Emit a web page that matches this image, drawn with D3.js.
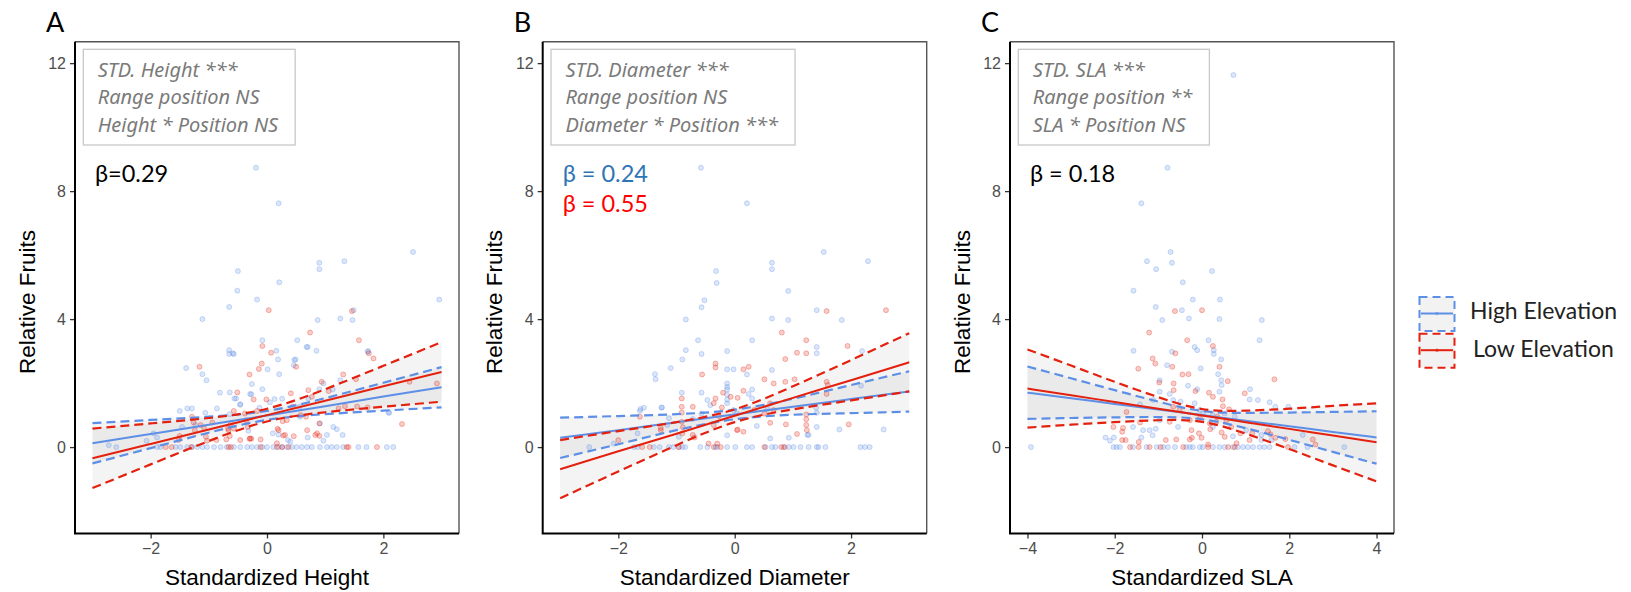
<!DOCTYPE html>
<html>
<head>
<meta charset="utf-8">
<script src="https://cdn.jsdelivr.net/npm/d3@7"></script>
<style>
body { margin: 0; background: #fff; }
</style>
</head>
<body>
<svg id="fig" width="1631" height="592"></svg>
<script>
// x positions where the fitted lines / confidence bounds were read
const ciXHD = [-3, -2, -1, 0, 1, 2, 3];
const ciXSLA = [-4, -3, -2, -1, 0, 1, 2, 3, 4];

// Panel A - height
const heightHighFit = [0.12, 0.41, 0.70, 0.99, 1.28, 1.58, 1.87];
const heightHighUp  = [0.75, 0.85, 0.95, 1.13, 1.53, 2.01, 2.50];
const heightHighLo  = [-0.51, -0.03, 0.45, 0.85, 1.03, 1.14, 1.24];
const heightLowFit  = [-0.35, 0.10, 0.55, 1.00, 1.45, 1.90, 2.35];
const heightLowUp   = [0.58, 0.74, 0.91, 1.20, 1.81, 2.54, 3.28];
const heightLowLo   = [-1.28, -0.54, 0.19, 0.80, 1.09, 1.26, 1.42];

// Panel B - diameter
const diamHighFit = [0.29, 0.53, 0.78, 1.02, 1.26, 1.50, 1.74];
const diamHighUp  = [0.92, 0.97, 1.03, 1.17, 1.51, 1.94, 2.37];
const diamHighLo  = [-0.34, 0.09, 0.53, 0.87, 1.01, 1.06, 1.11];
const diamLowFit  = [-0.69, -0.13, 0.42, 0.98, 1.54, 2.09, 2.65];
const diamLowUp   = [0.22, 0.50, 0.78, 1.18, 1.90, 2.72, 3.56];
const diamLowLo   = [-1.60, -0.76, 0.06, 0.78, 1.18, 1.46, 1.74];

// Panel C - SLA
const slaHighFit = [1.70, 1.525, 1.35, 1.175, 1.00, 0.825, 0.65, 0.475, 0.30];
const slaHighUp  = [2.52, 2.15, 1.78, 1.42, 1.13, 1.07, 1.08, 1.10, 1.12];
const slaHighLo  = [0.88, 0.91, 0.93, 0.94, 0.87, 0.59, 0.23, -0.15, -0.52];
const slaLowFit  = [1.83, 1.62, 1.41, 1.20, 0.99, 0.78, 0.57, 0.36, 0.15];
const slaLowUp   = [3.05, 2.55, 2.04, 1.56, 1.19, 1.14, 1.20, 1.29, 1.37];
const slaLowLo   = [0.61, 0.70, 0.78, 0.84, 0.79, 0.42, -0.06, -0.57, -1.07];

// scatter points [x, relative fruits]
const heightHighPts = [[-0.19,8.73],[0.20,7.62],[2.51,6.10],[-0.50,5.50],[0.90,5.76],[0.90,5.56],[1.33,5.81],[0.21,5.15],[2.96,4.61],[-0.51,4.89],[-0.65,4.38],[-0.17,4.61],[-1.11,4.0],[1.49,4.28],[1.47,3.97],[1.26,4.02],[0.87,3.97],[0.52,3.34],[-0.08,3.34],[0.70,3.13],[0.85,3.01],[0.16,3.01],[-0.65,3.03],[-0.65,2.91],[-0.57,2.91],[1.73,2.98],[0.19,2.74],[0.49,2.74],[0.46,2.56],[-1.39,2.47],[0.01,2.43],[-1.11,2.28],[0.21,2.28],[-1.04,2.09],[1.26,2.09],[-0.26,1.97],[0.97,1.99],[-0.08,1.81],[-0.81,1.70],[-0.64,1.71],[-0.29,1.66],[0.90,1.81],[1.13,1.80],[2.09,1.08],[1.14,0.63],[1.20,0.56],[1.30,0.38],[0.70,0.30],[0.97,0.20],[0.57,0.95],[0.10,0.43],[0.20,0.39],[0.36,0.22],[0.40,0.17],[-1.95,0.43],[-2.07,0.20],[-2.72,0.06],[-1.50,1.13],[-1.37,1.21],[-1.29,1.21],[-1.06,1.07],[-0.86,1.21],[-0.64,1.03],[-0.46,1.34],[-0.56,1.52],[0.13,1.50],[0.26,1.51],[0.05,1.40],[0.56,1.26],[0.71,1.52],[-1.23,0.69],[-1.89,0.30],[0.91,0.74],[1.03,0.38],[-1.46,0.63],[-0.53,1.52],[-0.46,1.32],[-0.27,1.65],[-0.13,1.23],[-0.32,0.51],[0.47,2.72],[0.68,3.13],[1.74,3.0],[2.10,1.07],[-0.59,2.93]];
const heightHighZero = [-2.59,-1.89,-1.83,-1.57,-1.49,-1.37,-1.29,-1.20,-1.11,-1.03,-0.91,-0.80,-0.69,-0.57,-0.46,-0.34,-0.26,-0.17,-0.08,0,0.11,0.20,0.26,0.34,0.43,0.51,0.60,0.69,0.77,0.91,1.03,1.11,1.20,1.31,1.57,1.71,2.06,2.17];
const heightLowPts = [[0.03,4.28],[1.46,4.25],[0.74,3.58],[1.58,3.34],[-0.08,3.16],[0.07,2.95],[1.75,2.93],[1.83,2.77],[-0.09,2.61],[0.50,2.51],[-1.16,2.51],[-0.14,2.44],[-0.30,2.27],[1.31,2.27],[1.53,2.12],[0.94,2.04],[-0.51,1.71],[0.41,1.68],[0.71,1.78],[1.06,1.75],[2.45,2.04],[2.92,1.99],[2.32,0.72],[1.73,1.24],[1.34,1.28],[1.23,1.21],[0.90,0.74],[0.69,0.53],[0.86,0.43],[0.90,0.35],[0.34,0.84],[0.27,0.81],[0.18,0.57],[0.20,0.53],[0.28,0.36],[-0.11,0.24],[-0.30,0.26],[-0.27,0.26],[-0.46,0.22],[-0.70,0.24],[-0.87,0.22],[-1.05,0.32],[-1.03,0.20],[-0.94,0.77],[-1.14,0.69],[-1.08,0.58],[-1.24,0.53],[-1.52,0.22],[-0.57,1.13],[-0.38,1.05],[-0.17,1.13],[-0.23,1.49],[-0.01,1.49],[0.77,1.57],[0.83,0.38],[0.46,0.34],[0.31,0.38],[0.17,0.12],[-0.67,0.58],[-0.57,0.58],[-0.29,0.27],[0.44,1.26],[0.58,1.0],[0.67,0.95],[-0.36,0.84],[-0.33,0.63],[-0.62,0.73],[-0.66,0.53],[-0.64,0.35],[-1.29,0.95],[-1.26,0.77],[-1.50,0.35],[1.55,1.27]];
const heightLowZero = [-1.74,-1.64,-1.30,-0.66,-0.62,-0.11,0.17,0.26,0.37,1.37,1.40,1.89];

const diamHighPts = [[-0.58,8.73],[0.21,7.62],[1.53,6.10],[2.29,5.81],[0.64,5.76],[0.64,5.56],[-0.32,5.50],[-0.31,5.13],[0.92,4.88],[-0.52,4.59],[-0.57,4.37],[1.41,4.28],[-0.84,3.99],[0.64,4.02],[0.92,3.97],[1.84,3.97],[0.30,3.34],[-0.63,3.34],[1.41,3.13],[1.41,2.93],[-0.57,2.91],[-0.13,3.0],[2.19,3.0],[-0.84,3.03],[-0.90,2.74],[0.64,2.41],[2.17,1.92],[-1.10,2.47],[-1.37,2.28],[-1.36,2.12],[-1.26,1.23],[-1.56,1.23],[-0.13,2.43],[-0.02,2.43],[-0.13,1.99],[-0.13,1.80],[0.21,2.27],[0.30,1.80],[-0.57,1.70],[-0.91,1.70],[-1.63,1.13],[1.40,1.23],[1.41,1.07],[1.41,0.63],[1.80,0.55],[2.56,0.55],[-0.13,0.37],[-1.67,0.43],[-1.62,1.19],[-1.25,1.24],[-2.08,0.11],[0.93,0.29],[1.25,0.38],[0.61,0.27],[-0.96,0.32],[-0.13,1.88],[-0.13,1.64],[-0.13,1.48],[-0.13,1.37],[0.24,1.66],[0.30,1.52],[0.56,1.19],[0.38,0.66],[1.27,0.38],[-0.02,1.16],[0.04,1.05],[-0.47,1.47],[-0.42,1.31],[-0.57,1.05],[-0.72,0.88],[-1.16,0.69],[-1.13,0.90]];
const diamHighZero = [-2.50,-1.73,-1.67,-1.39,-1.29,-1.13,-1.05,-0.96,-0.90,-0.85,-0.59,-0.47,-0.33,-0.30,-0.13,0.01,0.21,0.30,0.53,0.64,0.70,0.84,0.93,1.01,1.13,1.27,1.41,1.44,1.56,2.16,2.24,2.32];
const diamLowPts = [[1.58,4.25],[2.60,4.28],[0.81,3.58],[1.23,3.34],[1.94,3.16],[1.07,2.95],[1.23,2.93],[0.87,2.75],[0.51,2.12],[0.87,2.04],[1.58,2.04],[1.60,1.94],[-0.56,2.27],[-0.33,2.61],[-0.33,2.49],[0.15,2.43],[0.24,2.51],[0.15,1.76],[0.05,1.54],[-0.20,1.70],[-0.33,1.52],[-0.91,1.52],[-0.91,1.26],[-0.91,1.08],[0.61,1.37],[0.67,1.16],[0.88,0.71],[1.07,0.41],[1.23,1.02],[1.23,0.87],[1.23,0.69],[1.24,0.53],[1.58,1.66],[1.96,0.71],[0.61,0.76],[0.04,0.53],[0.15,0.48],[-0.36,0.69],[-0.72,0.38],[-0.69,0.30],[-0.91,0.79],[-0.89,0.62],[-0.90,0.43],[-1.27,0.53],[-2.00,0.22],[0.05,0.55],[-1.27,0.60],[-0.45,0.11],[-0.30,0.11],[-0.72,1.26],[-0.36,1.37],[-0.27,0.97],[-0.07,1.57],[-0.22,1.24],[0.34,1.16],[0.51,1.05],[0.67,1.99],[1.03,2.12],[-1.63,0.95]];
const diamLowZero = [-1.59,-1.46,-0.96,-0.36,-0.24,0.51,0.80,0.86];

const slaHighPts = [[0.72,11.63],[-0.79,8.73],[-1.39,7.62],[-0.72,6.10],[-0.69,5.76],[-1.26,5.81],[-1.05,5.56],[0.23,5.50],[-0.44,5.15],[-1.57,4.89],[-0.21,4.61],[0.41,4.61],[-1.06,4.38],[-0.46,4.28],[-0.91,3.97],[-0.30,4.02],[0.40,4.0],[1.37,3.97],[0.15,3.34],[1.32,3.34],[-0.17,3.13],[-0.11,3.03],[0.27,3.03],[0.27,2.91],[-0.69,2.98],[-1.57,3.01],[0.44,2.74],[-0.03,2.46],[-0.80,2.56],[0.37,2.28],[-0.97,2.09],[0.44,2.09],[0.45,1.94],[0.40,1.73],[-0.74,1.66],[-0.11,1.81],[1.10,1.81],[1.09,1.49],[1.28,1.47],[1.55,1.40],[1.68,1.26],[1.98,1.26],[-1.42,1.34],[-2.21,0.30],[-2.02,0.30],[-2.11,0.20],[-1.58,0.63],[-1.35,0.53],[-1.20,0.53],[-1.13,0.37],[-1.06,0.57],[-0.97,0.84],[-0.55,0.63],[0.71,0.34],[2.31,0.38],[-0.97,1.73],[-1.12,1.47],[-0.49,1.42],[-0.17,1.37],[-0.32,1.92],[-0.05,1.16],[0.02,1.05],[0.24,1.0],[0.52,1.05],[0.75,0.95],[1.01,0.53],[1.36,0.38],[1.36,0.22],[1.59,0.22],[0.25,0.63],[-0.66,1.47],[-1.39,0.30]];
const slaHighZero = [-3.92,-2.03,-1.96,-1.88,-1.58,-1.27,-1.04,-0.89,-0.78,-0.62,-0.36,-0.28,-0.21,-0.05,0.02,0.25,0.40,0.52,0.71,0.82,0.94,1.05,1.17,1.32,1.43,1.55,2.12,2.42,3.26];
const slaLowPts = [[-0.62,4.25],[0.0,4.28],[-1.21,3.58],[-0.34,3.34],[0.25,3.16],[-0.61,2.93],[-1.13,2.77],[-1.07,2.61],[0.40,2.51],[-1.46,2.45],[-0.68,2.51],[-0.45,2.27],[-0.31,2.28],[-0.98,2.02],[1.66,2.12],[0.59,2.06],[-0.65,1.78],[-0.65,1.99],[-0.15,1.75],[0.16,1.70],[0.25,1.57],[0.47,1.49],[0.98,1.68],[-1.73,1.10],[-2.03,0.63],[-1.81,0.60],[-1.83,0.48],[-1.75,0.22],[-1.83,0.22],[-1.45,0.16],[-0.74,0.79],[-0.28,0.84],[-0.24,0.53],[-0.28,0.24],[-0.23,0.29],[-0.07,0.43],[-0.01,0.29],[0.14,0.08],[0.19,0.56],[0.45,0.46],[0.52,0.32],[0.79,0.12],[1.09,0.22],[1.51,0.50],[1.57,0.40],[1.68,0.29],[1.91,0.25],[2.54,0.24],[2.60,0.08],[-1.42,0.77],[-0.66,1.26],[-0.51,1.16],[-0.05,0.90],[0.18,0.74],[0.35,0.95],[0.33,0.79],[0.56,0.84],[0.67,0.63],[0.88,0.43],[1.15,0.43],[0.48,1.28],[0.62,1.18],[-0.83,0.22],[-0.59,0.24]];
const slaLowZero = [-1.65,-1.45,-1.20,-0.95,-0.43,0.14,0.60,0.75,1.97];

const panelLetters = ["A", "B", "C"];
const xTitles = ["Standardized Height", "Standardized Diameter", "Standardized SLA"];
const yTitle = "Relative Fruits";
const statLines = [
  ["STD. Height ***", "Range position NS", "Height * Position NS"],
  ["STD. Diameter ***", "Range position NS", "Diameter * Position ***"],
  ["STD. SLA ***", "Range position **", "SLA * Position NS"]
];
const betaLabels = [
  [{text: "β=0.29", color: "#000"}],
  [{text: "β = 0.24", color: "#2E75B6"}, {text: "β = 0.55", color: "#FF0000"}],
  [{text: "β = 0.18", color: "#000"}]
];
const xTicksHD = [-2, 0, 2];
const xTicksSLA = [-4, -2, 0, 2, 4];
const yTicks = [0, 4, 8, 12];
const legendLabels = ["High Elevation", "Low Elevation"];

const BLUE = "#5E8FE6";
const RED = "#E3210E";

const panels = [
  {left: 75, xDomain: [-3.3, 3.3], xTicks: xTicksHD, ciX: ciXHD,
   high: {fit: heightHighFit, up: heightHighUp, lo: heightHighLo, pts: heightHighPts, zero: heightHighZero},
   low:  {fit: heightLowFit,  up: heightLowUp,  lo: heightLowLo,  pts: heightLowPts,  zero: heightLowZero}},
  {left: 542.7, xDomain: [-3.3, 3.3], xTicks: xTicksHD, ciX: ciXHD,
   high: {fit: diamHighFit, up: diamHighUp, lo: diamHighLo, pts: diamHighPts, zero: diamHighZero},
   low:  {fit: diamLowFit,  up: diamLowUp,  lo: diamLowLo,  pts: diamLowPts,  zero: diamLowZero}},
  {left: 1010, xDomain: [-4.4, 4.4], xTicks: xTicksSLA, ciX: ciXSLA,
   high: {fit: slaHighFit, up: slaHighUp, lo: slaHighLo, pts: slaHighPts, zero: slaHighZero},
   low:  {fit: slaLowFit,  up: slaLowUp,  lo: slaLowLo,  pts: slaLowPts,  zero: slaLowZero}}
];

const panelW = 384, plotTop = 41.7, plotBottom = 533.5;
const svg = d3.select("#fig");
const defs = svg.append("defs");

panels.forEach(function (p, i) {
  const x = d3.scaleLinear().domain(p.xDomain).range([p.left, p.left + panelW]);
  const y = d3.scaleLinear().domain([-2.7, 12.67]).range([plotBottom, plotTop]);
  const g = svg.append("g");

  defs.append("clipPath").attr("id", "clip" + i)
    .append("rect").attr("x", p.left).attr("y", plotTop).attr("width", panelW).attr("height", plotBottom - plotTop);
  const plot = g.append("g").attr("clip-path", "url(#clip" + i + ")");

  // ribbons
  [p.high, p.low].forEach(function (s) {
    const area = d3.area()
      .x(function (d, k) { return x(p.ciX[k]); })
      .y0(function (d, k) { return y(s.lo[k]); })
      .y1(function (d, k) { return y(s.up[k]); })
      .curve(d3.curveNatural);
    plot.append("path").datum(s.fit).attr("d", area)
      .attr("fill", "#a8a8a8").attr("fill-opacity", 0.12);
  });

  // points
  [[p.high, BLUE], [p.low, RED]].forEach(function (pair) {
    const s = pair[0];
    const pts = s.pts.concat(s.zero.map(function (v) { return [v, 0]; }));
    plot.selectAll(null).data(pts).enter().append("circle")
      .attr("cx", function (d) { return x(d[0]); })
      .attr("cy", function (d) { return y(d[1]); })
      .attr("r", 2.5)
      .attr("fill", pair[1]).attr("fill-opacity", 0.22)
      .attr("stroke", pair[1]).attr("stroke-opacity", 0.3).attr("stroke-width", 1);
  });

  // fitted lines and bounds
  [[p.high, BLUE], [p.low, RED]].forEach(function (pair) {
    const s = pair[0];
    const line = d3.line()
      .x(function (d, k) { return x(p.ciX[k]); })
      .y(function (d) { return y(d); })
      .curve(d3.curveNatural);
    [s.up, s.lo].forEach(function (b) {
      plot.append("path").datum(b).attr("d", line)
        .attr("fill", "none").attr("stroke", pair[1]).attr("stroke-width", 2.2)
        .attr("stroke-dasharray", "9,5");
    });
    plot.append("path").datum(s.fit).attr("d", line)
      .attr("fill", "none").attr("stroke", pair[1]).attr("stroke-width", 2);
  });

  // frame (top/right) and axes
  g.append("path")
    .attr("d", "M" + p.left + "," + plotTop + "H" + (p.left + panelW) + "V" + plotBottom)
    .attr("fill", "none").attr("stroke", "#555").attr("stroke-width", 1.4);

  const xAxis = g.append("g").attr("transform", "translate(0," + plotBottom + ")")
    .call(d3.axisBottom(x).tickValues(p.xTicks).tickSize(5).tickPadding(4).tickFormat(d3.format("d")));
  const yAxis = g.append("g").attr("transform", "translate(" + p.left + ",0)")
    .call(d3.axisLeft(y).tickValues(yTicks).tickSize(5).tickPadding(4));
  [xAxis, yAxis].forEach(function (a) {
    a.select(".domain").remove();
    a.selectAll(".tick line").attr("stroke", "#333").attr("stroke-width", 1.3);
    a.selectAll(".tick text").attr("fill", "#4D4D4D")
      .style("font-family", "'Liberation Sans', Arial, sans-serif").style("font-size", "16px");
  });
  g.append("path")
    .attr("d", "M" + p.left + "," + plotTop + "V" + plotBottom + "H" + (p.left + panelW))
    .attr("fill", "none").attr("stroke", "#000").attr("stroke-width", 2);

  // titles
  g.append("text").attr("x", p.left + panelW / 2).attr("y", 585)
    .attr("text-anchor", "middle")
    .style("font-family", "'Liberation Sans', Arial, sans-serif").style("font-size", "22.5px")
    .text(xTitles[i]);
  g.append("text")
    .attr("transform", "translate(" + (p.left - 40.5) + ",302) rotate(-90)")
    .attr("text-anchor", "middle")
    .style("font-family", "'Liberation Sans', Arial, sans-serif").style("font-size", "22.5px")
    .text(yTitle);
  g.append("text").attr("x", p.left - 29).attr("y", 31.7)
    .style("font-family", "Lato, sans-serif").style("font-size", "27px")
    .text(panelLetters[i]);

  // statistics box
  const box = g.append("g");
  const tx = box.selectAll("text").data(statLines[i]).enter().append("text")
    .attr("x", p.left + 22.7)
    .attr("y", function (d, k) { return 77 + k * 27.3; })
    .attr("fill", "#7a7a7a")
    .style("font-family", "'Noto Sans', sans-serif").style("font-style", "italic").style("font-size", "20px")
    .text(function (d) { return d; });
  let maxW = 0;
  tx.each(function () { maxW = Math.max(maxW, this.getComputedTextLength()); });
  box.insert("rect", "text")
    .attr("x", p.left + 8.3).attr("y", 49.3)
    .attr("width", maxW + 14.4 + 17).attr("height", 95.7)
    .attr("fill", "#fff").attr("stroke", "#c8c8c8").attr("stroke-width", 1.3);

  // slopes
  g.selectAll(null).data(betaLabels[i]).enter().append("text")
    .attr("x", p.left + 20)
    .attr("y", function (d, k) { return 181.7 + k * 30.6; })
    .attr("fill", function (d) { return d.color; })
    .style("font-family", "Lato, sans-serif").style("font-size", "23.5px")
    .text(function (d) { return d.text; });
});

// legend
const leg = svg.append("g");
legendLabels.forEach(function (lab, k) {
  const col = k === 0 ? BLUE : RED;
  const ky = 297 + k * 36.7;
  leg.append("rect").attr("x", 1419.5).attr("y", ky).attr("width", 35).attr("height", 34)
    .attr("fill", "#f2f2f2").attr("stroke", col).attr("stroke-width", 2).attr("stroke-dasharray", "8,5");
  leg.append("line").attr("x1", 1421).attr("x2", 1453).attr("y1", ky + 16.5).attr("y2", ky + 16.5)
    .attr("stroke", col).attr("stroke-width", 2);
  leg.append("circle").attr("cx", 1437).attr("cy", ky + 16.5).attr("r", 1.8)
    .attr("fill", col).attr("fill-opacity", 0.6);
  leg.append("text").attr("x", k === 0 ? 1470 : 1473).attr("y", 319.3 + k * 37.4)
    .attr("fill", "#222")
    .style("font-family", "Lato, sans-serif").style("font-size", "23px")
    .text(lab);
});
</script>
</body>
</html>
